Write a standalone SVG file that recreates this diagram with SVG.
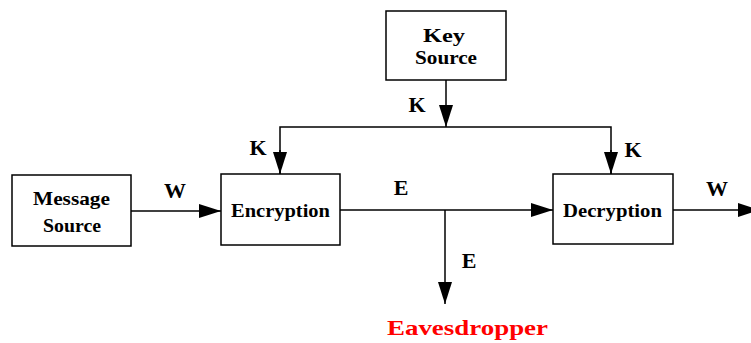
<svg xmlns="http://www.w3.org/2000/svg" width="751" height="343" viewBox="0 0 751 343">
<defs>
<marker id="ah" markerWidth="22" markerHeight="14" refX="22" refY="7" orient="auto" markerUnits="userSpaceOnUse">
<path d="M0,0 L22,7 L0,14 Z" fill="#000"/>
</marker>
</defs>
<style>
.box{fill:#fff;stroke:#000;stroke-width:1.5}
.bt{font-family:"Liberation Serif",serif;font-weight:bold;font-size:19px;text-anchor:middle}
.lb{font-family:"Liberation Serif",serif;font-weight:bold;font-size:22px;text-anchor:middle}
.ln{fill:none;stroke:#000;stroke-width:1.5}
</style>
<rect width="751" height="343" fill="#fff"/>
<g id="connectors">
<line class="ln" x1="446" y1="80" x2="446" y2="127" marker-end="url(#ah)"/>
<polyline class="ln" points="280,174 280,127 611,127 611,174"/>
<line class="ln" x1="280" y1="150" x2="280" y2="174" marker-end="url(#ah)"/>
<line class="ln" x1="611" y1="150" x2="611" y2="174" marker-end="url(#ah)"/>
<line class="ln" x1="131" y1="211" x2="221" y2="211" marker-end="url(#ah)"/>
<line class="ln" x1="340" y1="210" x2="553" y2="210" marker-end="url(#ah)"/>
<line class="ln" x1="445" y1="210" x2="445" y2="304" marker-end="url(#ah)"/>
<line class="ln" x1="673" y1="210" x2="760" y2="210" marker-end="url(#ah)"/>
<text class="lb" x="417" y="112">K</text>
<text class="lb" x="258" y="155">K</text>
<text class="lb" x="633" y="157">K</text>
<text class="lb" x="175" y="198">W</text>
<text class="lb" x="401" y="195">E</text>
<text class="lb" x="717" y="196">W</text>
<text class="lb" x="469" y="268">E</text>
</g>
<g id="key-source">
<rect class="box" x="386" y="11" width="120" height="69"/>
<text class="bt" x="444" y="42" textLength="42" lengthAdjust="spacingAndGlyphs">Key</text>
<text class="bt" x="446" y="64" textLength="62" lengthAdjust="spacingAndGlyphs">Source</text>
</g>
<g id="message-source">
<rect class="box" x="12" y="175" width="119" height="71"/>
<text class="bt" x="71.5" y="205" textLength="77" lengthAdjust="spacingAndGlyphs">Message</text>
<text class="bt" x="72" y="232" textLength="58" lengthAdjust="spacingAndGlyphs">Source</text>
</g>
<g id="encryption">
<rect class="box" x="221" y="174" width="119" height="71"/>
<text class="bt" x="280.5" y="217" textLength="99" lengthAdjust="spacingAndGlyphs">Encryption</text>
</g>
<g id="decryption">
<rect class="box" x="553" y="174" width="120" height="70"/>
<text class="bt" x="612.5" y="217" textLength="99" lengthAdjust="spacingAndGlyphs">Decryption</text>
</g>
<g id="eavesdropper">
<text x="467.5" y="335" font-family="'Liberation Serif',serif" font-weight="bold" font-size="22" fill="#ff0000" text-anchor="middle" textLength="161" lengthAdjust="spacingAndGlyphs">Eavesdropper</text>
</g>
</svg>
